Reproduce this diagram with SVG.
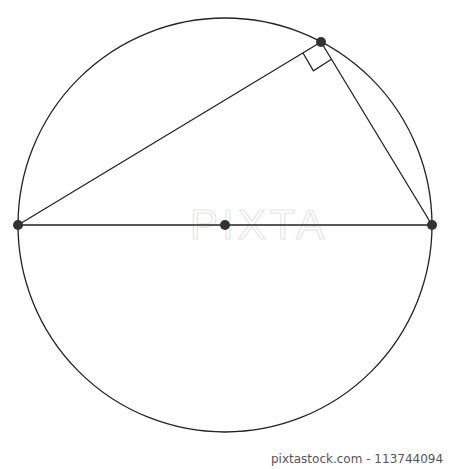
<svg xmlns="http://www.w3.org/2000/svg" width="450" height="469" viewBox="0 0 450 469">
<style>
.ln{fill:none;stroke:#222;stroke-width:1.3}
.dot{fill:#333}
.wm{fill:none;stroke:#e6e6e6;stroke-width:1.2;font-family:"Liberation Sans",Arial,sans-serif;font-size:42px;letter-spacing:4px}
.cap{fill:#555;font-family:"DejaVu Sans","Liberation Sans",sans-serif;font-size:12px}
</style>
<rect width="450" height="469" fill="#fff"/>
<text class="wm" x="190" y="239">PIXTA</text>
<g id="connectors">
<circle class="ln" cx="225" cy="225" r="207"/>
<line class="ln" x1="18" y1="225" x2="432" y2="225"/>
<line class="ln" x1="18" y1="225" x2="321" y2="42"/>
<line class="ln" x1="321" y1="42" x2="432" y2="225"/>
<polyline class="ln" points="303,53 313.4,70.9 331.4,59.2"/>
</g>
<g id="A"><circle class="dot" cx="18" cy="225" r="5"/></g>
<g id="B"><circle class="dot" cx="432" cy="225" r="5"/></g>
<g id="C"><circle class="dot" cx="321" cy="42" r="5"/></g>
<g id="O"><circle class="dot" cx="225" cy="225" r="5"/></g>
<text class="cap" x="271" y="463">pixtastock.com - 113744094</text>
</svg>
